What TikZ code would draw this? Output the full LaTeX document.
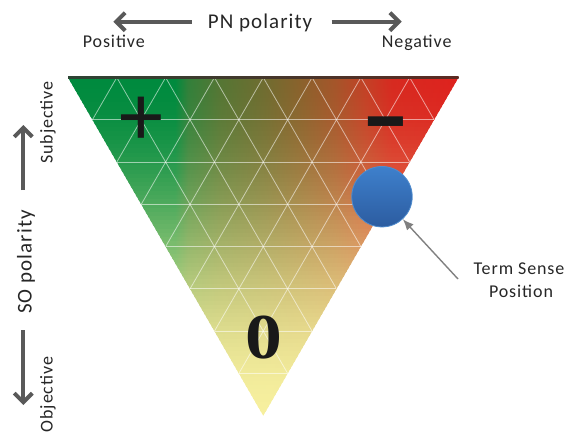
\documentclass[tikz,border=0pt]{standalone}
\usepackage{fontspec}
\setmainfont{Carlito}
\newfontfamily\lsfont[LetterSpace=5.0]{Carlito}
\newfontfamily\zerofont{Liberation Serif}
\usetikzlibrary{arrows.meta,calc}

\definecolor{Yel}{RGB}{246,239,158}
\definecolor{H1}{RGB}{0,138,62}
\definecolor{H2}{RGB}{0,138,62}
\definecolor{H3}{RGB}{50,128,58}
\definecolor{H4}{RGB}{85,118,52}
\definecolor{H5}{RGB}{112,108,48}
\definecolor{H6}{RGB}{138,98,44}
\definecolor{H7}{RGB}{165,85,42}
\definecolor{H8}{RGB}{195,65,38}
\definecolor{H9}{RGB}{215,42,32}
\definecolor{H10}{RGB}{222,34,30}
\definecolor{txt}{RGB}{38,38,38}
\definecolor{arr}{RGB}{89,89,89}
\definecolor{arrG}{RGB}{128,128,128}
\definecolor{ballT}{RGB}{62,128,204}
\definecolor{ballB}{RGB}{44,92,160}
\definecolor{ballE}{RGB}{80,140,205}
\definecolor{topL}{RGB}{45,68,52}
\definecolor{topR}{RGB}{92,42,34}
\definecolor{symc}{RGB}{25,25,25}

\begin{document}
\begin{tikzpicture}[x=1pt,y=-1pt,
  lbl/.style={font=\lsfont\fontsize{18}{20}\selectfont, text=txt, inner sep=0pt},
  biglbl/.style={font=\lsfont\fontsize{21}{24}\selectfont, text=txt, inner sep=0pt},
  bigarrow/.style={draw=arr, line width=4pt, -{Straight Barb[length=9pt,width=18pt]}},
  gridl/.style={draw=white, opacity=0.55, line width=0.8pt},
  sym/.style={text=symc, inner sep=0pt},
  ptr/.style={draw=arrG, line width=1.4pt, -{Latex[length=11pt,width=9pt]}}
]
\useasboundingbox (0,0) rectangle (567,436);
\coordinate (A) at (68,77.5);
\coordinate (B) at (458.5,77.5);
\coordinate (C) at (263.25,415.7);

\begin{scope}
\clip (A) -- (B) -- (C) -- cycle;
\foreach \i in {0,...,79}{
  \pgfmathsetmacro\ff{(\i+0.5)/80}
  \pgfmathsetmacro\tt{100*(3*\ff*\ff-2*\ff*\ff*\ff)}
  \pgfmathsetmacro\ya{77.5+\i*4.2275-0.5}
  \pgfmathsetmacro\yb{77.5+(\i+1)*4.2275+0.5}
  \colorlet{s1}{Yel!\tt!H1}
  \colorlet{s2}{Yel!\tt!H2}
  \colorlet{s3}{Yel!\tt!H3}
  \colorlet{s4}{Yel!\tt!H4}
  \colorlet{s5}{Yel!\tt!H5}
  \colorlet{s6}{Yel!\tt!H6}
  \colorlet{s7}{Yel!\tt!H7}
  \colorlet{s8}{Yel!\tt!H8}
  \colorlet{s9}{Yel!\tt!H9}
  \colorlet{s10}{Yel!\tt!H10}
  \pgfdeclarehorizontalshading{bs\i}{100bp}{color(0bp)=(s1); color(25bp)=(s1); color(38.7bp)=(s2); color(40.36bp)=(s3); color(44.46bp)=(s4); color(50.22bp)=(s5); color(54.71bp)=(s6); color(59.19bp)=(s7); color(63.03bp)=(s8); color(66.48bp)=(s9); color(75bp)=(s10); color(100bp)=(s10)}
  \shade[shading=bs\i] (68,\ya) rectangle (458.5,\yb);
}
\foreach \k in {1,...,7}{
  \draw[gridl] ($(A)!\k/8!(B)$) -- ($(C)!\k/8!(B)$);
  \draw[gridl] ($(A)!\k/8!(B)$) -- ($(A)!\k/8!(C)$);
  \draw[gridl] ($(A)!\k/8!(C)$) -- ($(B)!\k/8!(C)$);
}
\end{scope}
\shade[left color=topL, right color=topR] (68,76.3) rectangle (458.5,78.7);

% symbols
\node[sym, font=\fontsize{88}{88}\selectfont] (plus) at (141,121) {+};
\node[sym, font=\fontsize{70}{70}\selectfont, xscale=1.4, yscale=2.2, anchor=base] (minus) at (385.5,164.5) {–};
\node[sym, font=\zerofont\bfseries\fontsize{64}{64}\selectfont, xscale=1.15, anchor=base] (zero) at (264,358) {0};

% ball and pointer
\node[circle, minimum size=60.5pt, inner sep=0pt, top color=ballT, bottom color=ballB, draw=ballE, line width=0.8pt] (ball) at (382,196.7) {};
\coordinate (tail) at (458,279);
\draw[ptr] (tail) -- (ball);
\node[lbl, anchor=base] (term) at (519,274) {Term Sense};
\node[lbl, anchor=base] (posn) at (521,297.3) {Position};

% top labels
\node[biglbl, anchor=base] (pn) at (260,28.3) {PN polarity};
\node[lbl, anchor=base] (pos) at (113.8,47.3) {Positive};
\node[lbl, anchor=base] (neg) at (416.7,47.3) {Negative};
\coordinate (lt) at (191.7,21.7);
\coordinate (lh) at (113.3,21.7);
\coordinate (rt) at (331.7,21.7);
\coordinate (rh) at (401.7,21.7);
\draw[bigarrow] (lt) -- (lh);
\draw[bigarrow] (rt) -- (rh);

% left labels
\node[lbl, anchor=base, rotate=90] (subj) at (52.7,122.5) {Subjective};
\node[biglbl, anchor=base, rotate=90] (so) at (31.7,262) {SO polarity};
\node[lbl, anchor=base, rotate=90] (obj) at (52.7,394.5) {Objective};
\coordinate (ut) at (23.3,190);
\coordinate (uh) at (23.3,125);
\coordinate (dt) at (23.3,330);
\coordinate (dh) at (23.3,405);
\draw[bigarrow] (ut) -- (uh);
\draw[bigarrow] (dt) -- (dh);
\end{tikzpicture}
\end{document}
